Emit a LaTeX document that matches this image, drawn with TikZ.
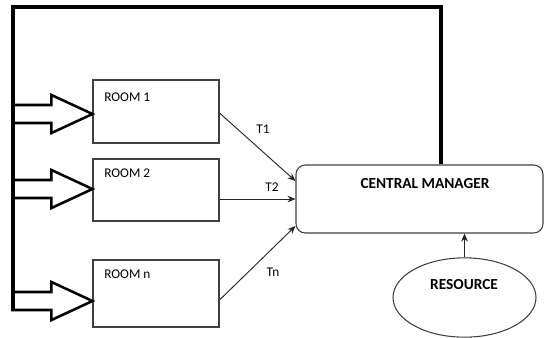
\documentclass[tikz,border=0pt]{standalone}
\usepackage{fontspec}
\setmainfont{Carlito}
\usetikzlibrary{arrows.meta,shapes.geometric,calc}
\begin{document}
\begin{tikzpicture}[x=0.75pt,y=-0.75pt,
  roombox/.style={draw=black!75,line width=0.8pt,minimum width=94.5pt,inner sep=0pt},
  roomtxt/.style={anchor=west,inner sep=0pt,font=\fontsize{10}{12}\selectfont},
  tlabel/.style={inner sep=0pt,font=\fontsize{10}{12}\selectfont},
  bigtxt/.style={inner sep=0pt,font=\fontsize{11.5}{13}\selectfont\bfseries},
  blockarr/.style={draw=black,line width=1.9pt,line join=miter},
  thick line/.style={draw=black,line width=2.4pt},
  conn/.style={draw=black!85,line width=0.7pt,-{Stealth[length=6pt,width=5pt]}}]
\useasboundingbox (0,0) rectangle (545,337);
% rooms
\node[roombox,minimum height=47.25pt] (room1) at (156,111.5) {};
\node[roombox,minimum height=46.5pt] (room2) at (156,190) {};
\node[roombox,minimum height=50.25pt] (roomn) at (156,293.5) {};
\node[roomtxt] (t1) at (104,97) {ROOM 1};
\node[roomtxt] (t2) at (104,173) {ROOM 2};
\node[roomtxt] (tn) at (104,274) {ROOM n};
% central manager
\node[draw=black!75,line width=0.8pt,rounded corners=7pt,minimum width=185.25pt,minimum height=51pt,inner sep=0pt] (cm) at (419.5,199) {};
\node[bigtxt] (cmt) at (425,184) {CENTRAL MANAGER};
% resource
\node[draw=black!75,line width=0.8pt,ellipse,minimum width=107.25pt,minimum height=59.5pt,inner sep=0pt] (res) at (464.5,297.5) {};
\node[bigtxt] (rest) at (464,285) {RESOURCE};
% feedback line
\coordinate (bl) at (13,310);
\coordinate (tl) at (13,7);
\coordinate (tr) at (441,7);
\draw[thick line,line join=miter] (bl) -- (tl) -- (tr) -- (tr |- cm.north);
% block arrows
\foreach \r/\y in {room1/114,room2/189,roomn/301}{
  \draw[blockarr] (\r.west |- 0,\y) -- ++(-41,-19) -- ++(0,10) -- ++(-39,0) -- ++(0,18) -- ++(39,0) -- ++(0,10) -- cycle;
}
% connectors
\draw[conn] ($(room1.east)+(0,1.5)$) -- ($(cm.west)+(0,-18)$);
\draw[conn] (room2.east |- cm.west) -- (cm.west);
\draw[conn] ($(roomn.east)+(0,6.5)$) -- ($(cm.west)+(0,27)$);
\draw[conn] (res.north) -- (cm.south -| res.north);
% labels
\node[tlabel] (l1) at (263,129) {T1};
\node[tlabel] (l2) at (272,187) {T2};
\node[tlabel] (ln) at (273,272) {Tn};
\end{tikzpicture}
\end{document}
